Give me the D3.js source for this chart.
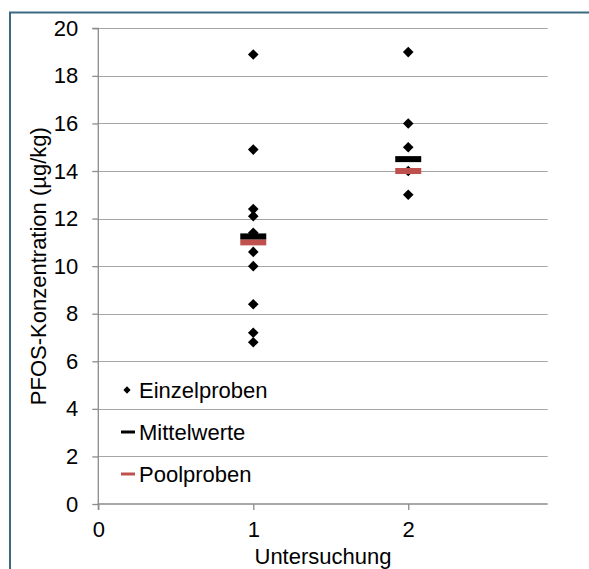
<!DOCTYPE html>
<html>
<head>
<meta charset="utf-8">
<script src="https://cdn.jsdelivr.net/npm/d3@7"></script>
<style>
  html, body { margin: 0; padding: 0; background: #fff; }
  svg { display: block; }
  text { font-family: "Liberation Sans", Arial, sans-serif; fill: #000; }
</style>
</head>
<body>
<svg id="chart" width="589" height="569"></svg>
<script>
// Einzelproben (single samples) per Untersuchung
const singles1 = [18.9, 14.9, 12.4, 12.1, 11.4, 10.6, 10.0, 8.4, 7.2, 6.8];
const singles2 = [19.0, 16.0, 15.0, 14.0, 13.0];
const studies = [1, 2];
// Mittelwerte (means) and Poolproben (pooled samples)
const means = [11.25, 14.5];
const pools = [11.0, 14.0];
const yTicks = [0, 2, 4, 6, 8, 10, 12, 14, 16, 18, 20];
const xTicks = [0, 1, 2];
const legendLabels = ["Einzelproben", "Mittelwerte", "Poolproben"];

const svg = d3.select("#chart");
const W = 589, H = 569;
const FS = 22;
const RED = "#c0504d";

const x = d3.scaleLinear().domain([0, 2.9]).range([98.3, 547.7]);
const y = d3.scaleLinear().domain([0, 20]).range([504, 28.3]);

// frame
svg.append("path")
  .attr("d", `M10,${H} L10,12.5 L${W},12.5`)
  .attr("fill", "none").attr("stroke", "#3b6a82").attr("stroke-width", 2);

// gridlines
svg.append("g").selectAll("line").data(yTicks.filter(d => d > 0)).join("line")
  .attr("x1", x(0)).attr("x2", x(2.9))
  .attr("y1", d => Math.round(y(d)) + 0.5).attr("y2", d => Math.round(y(d)) + 0.5)
  .attr("stroke", "#a6a6a6").attr("stroke-width", 1.2);

// y axis
const yAxis = d3.axisLeft(y).tickValues(yTicks).tickFormat(d3.format("d")).tickSize(6).tickPadding(14);
const gy = svg.append("g").attr("transform", `translate(${x(0)},0)`).call(yAxis);
// x axis
const xAxis = d3.axisBottom(x).tickValues(xTicks).tickFormat(d3.format("d")).tickSize(6).tickPadding(11);
const gx = svg.append("g").attr("transform", `translate(0,${y(0)})`).call(xAxis);
[gy, gx].forEach(g => {
  g.select(".domain").attr("stroke", "#8c8c8c").attr("stroke-width", 1.3);
  g.selectAll(".tick line").attr("stroke", "#8c8c8c").attr("stroke-width", 1.3);
  g.selectAll(".tick text").attr("font-size", FS).attr("font-family", "Liberation Sans, Arial, sans-serif").attr("fill", "#000");
});
gx.select(".domain").attr("d", `M${x(0)},6V0H${x(2.9)}`);
gy.select(".domain").attr("d", `M-6,${y(20)}H0V${y(0)}`);

// axis titles
svg.append("text").attr("x", (x(0) + x(2.9)) / 2).attr("y", 564)
  .attr("text-anchor", "middle").attr("font-size", FS).text("Untersuchung");
svg.append("text").attr("transform", `translate(46,${(y(0) + y(20)) / 2}) rotate(-90)`)
  .attr("text-anchor", "middle").attr("font-size", FS).text("PFOS-Konzentration (µg/kg)");

const diamond = d3.symbol().type(d3.symbolDiamond2);
const pts = [
  ...singles1.map(v => ({ s: studies[0], v })),
  ...singles2.map(v => ({ s: studies[1], v }))
];
svg.append("g").selectAll("path").data(pts).join("path")
  .attr("d", diamond.size(72)())
  .attr("transform", d => `translate(${x(d.s)},${y(d.v)})`)
  .attr("fill", "#000");

// mean and pool bars
const barW = 26, barH = 6;
svg.append("g").selectAll("rect").data(studies.map((s, i) => ({ s, v: pools[i] }))).join("rect")
  .attr("x", d => x(d.s) - barW / 2).attr("y", d => y(d.v) - barH / 2)
  .attr("width", barW).attr("height", barH).attr("fill", RED);
svg.append("g").selectAll("rect").data(studies.map((s, i) => ({ s, v: means[i] }))).join("rect")
  .attr("x", d => x(d.s) - barW / 2).attr("y", d => y(d.v) - barH / 2)
  .attr("width", barW).attr("height", barH).attr("fill", "#000");

// legend
const lg = svg.append("g");
const ly = [390, 432, 474];
lg.append("path").attr("d", diamond.size(34)()).attr("transform", `translate(127,${ly[0]})`).attr("fill", "#000");
lg.append("rect").attr("x", 121).attr("y", ly[1] - 1.5).attr("width", 14).attr("height", 3).attr("fill", "#000");
lg.append("rect").attr("x", 121).attr("y", ly[2] - 1.5).attr("width", 14).attr("height", 3).attr("fill", RED);
lg.selectAll("text").data(legendLabels).join("text")
  .attr("x", 139).attr("y", (d, i) => ly[i]).attr("dy", "0.35em")
  .attr("font-size", FS).text(d => d);
</script>
</body>
</html>
